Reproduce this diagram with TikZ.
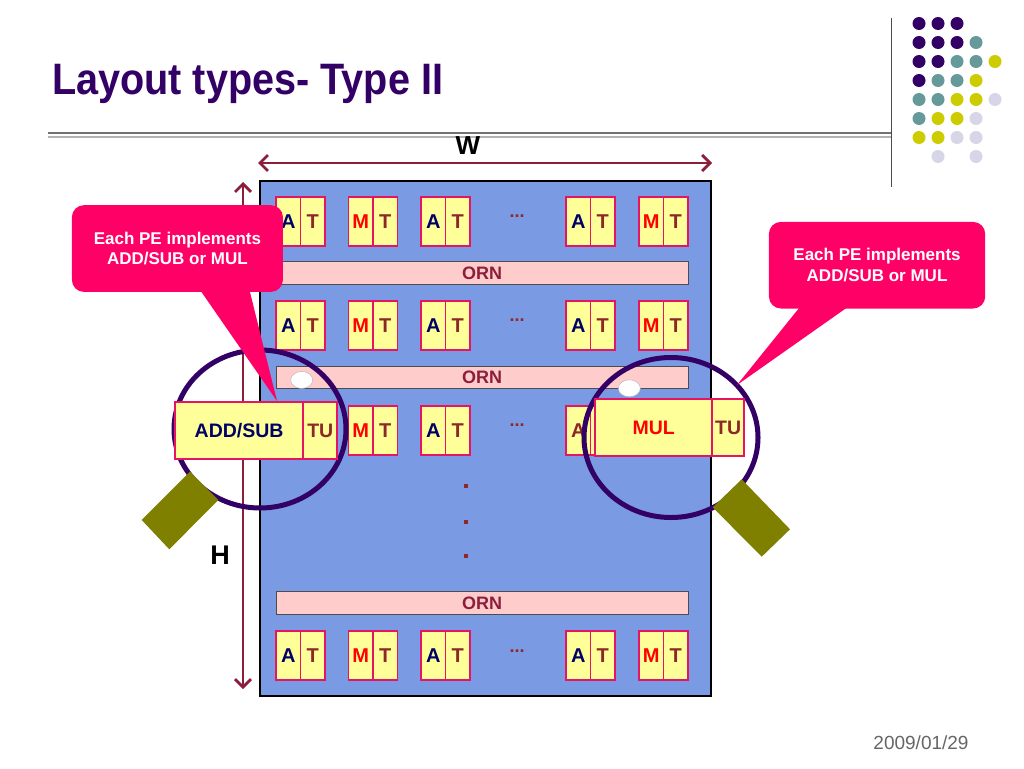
\documentclass[tikz,border=0pt]{standalone}
\usepackage{fontspec}
\setmainfont{Liberation Sans}
\usetikzlibrary{arrows.meta,shapes.geometric}
\definecolor{titlecol}{RGB}{51,0,102}
\definecolor{dotP}{RGB}{51,0,102}
\definecolor{dotT}{RGB}{102,153,153}
\definecolor{dotY}{RGB}{204,204,0}
\definecolor{dotL}{RGB}{214,214,232}
\definecolor{chipblue}{RGB}{122,155,228}
\definecolor{cellfill}{RGB}{255,255,153}
\definecolor{cellborder}{RGB}{230,20,100}
\definecolor{acol}{RGB}{0,0,102}
\definecolor{mcol}{RGB}{255,0,0}
\definecolor{tcol}{RGB}{140,40,40}
\definecolor{orncol}{RGB}{140,30,60}
\definecolor{ornfill}{RGB}{255,204,204}
\definecolor{arrcol}{RGB}{140,30,60}
\definecolor{ringcol}{RGB}{51,0,102}
\definecolor{handlecol}{RGB}{128,128,0}
\definecolor{calloutcol}{RGB}{255,0,102}
\newcommand\pepair[5]{%
  \node[cell, text=#5, anchor=north west] (#1a) at (#2,#3) {#4};
  \node[cell, text=tcol, anchor=north west] (#1b) at (#1a.north east) {T};
}
\begin{document}
\begin{tikzpicture}[x=1pt,y=-1pt,
  cell/.style={draw=cellborder, fill=cellfill, line width=1.6pt, minimum width=24.5pt,
    minimum height=49pt, inner sep=0pt, outer sep=0pt, font=\fontsize{20}{22}\selectfont\bfseries},
  orn/.style={draw=black!70, fill=ornfill, line width=1pt, minimum width=412pt,
    minimum height=22.5pt, inner sep=0pt, outer sep=0pt, text=orncol, font=\fontsize{18}{20}\selectfont\bfseries},
  bigcell/.style={draw=cellborder, fill=cellfill, line width=1.8pt, inner sep=0pt, outer sep=0pt,
    font=\fontsize{19.5}{22}\selectfont\bfseries},
  callout/.style={fill=calloutcol, rounded corners=12pt, inner sep=0pt, text=white, align=center,
    font=\fontsize{17}{20.5}\selectfont\bfseries},
  dimarrow/.style={draw=arrcol, line width=2.8pt, {Straight Barb[length=8pt,width=16pt]}-{Straight Barb[length=8pt,width=16pt]}},
  ring/.style={draw=ringcol, line width=5pt},
  handle/.style={fill=handlecol},
  gdot/.style={circle, inner sep=0pt, minimum size=13pt},
  ellip/.style={text=tcol, font=\fontsize{18}{20}\selectfont\bfseries},
  vdot/.style={fill=tcol, inner sep=0pt, minimum size=3.5pt},
  hole/.style={ellipse, fill=white, draw=black!30, line width=0.4pt, minimum width=22pt, minimum height=17pt, inner sep=0pt}
]
\useasboundingbox (0,0) rectangle (1024,768);
\fill[white] (0,0) rectangle (1024,768);

% title
\node[anchor=base west, inner sep=0pt, text=titlecol, font=\fontsize{44}{50}\selectfont\bfseries] (title) at (52,94) {\scalebox{0.9}[1]{Layout types- Type II}};

% separator lines
\draw[draw=black!55, line width=2.8pt] (48,133) -- (891,133);
\draw[draw=black!30, line width=2pt] (48,136.5) -- (891,136.5);
\draw[draw=black!70, line width=1pt] (891,18) -- (891,187);

% dot grid
\foreach \c/\r/\col in {0/0/dotP,1/0/dotP,2/0/dotP,
  0/1/dotP,1/1/dotP,2/1/dotP,3/1/dotT,
  0/2/dotP,1/2/dotP,2/2/dotT,3/2/dotT,4/2/dotY,
  0/3/dotP,1/3/dotT,2/3/dotT,3/3/dotY,
  0/4/dotT,1/4/dotT,2/4/dotY,3/4/dotY,4/4/dotL,
  0/5/dotT,1/5/dotY,2/5/dotY,3/5/dotL,
  0/6/dotY,1/6/dotY,2/6/dotL,3/6/dotL,
  1/7/dotL,3/7/dotL}
  \node[gdot, fill=\col] (d\c\r) at ({919+19*\c},{23.5+19*\r}) {};

% chip
\node[draw=black, fill=chipblue, line width=1.2pt, minimum width=451pt, minimum height=515pt,
  inner sep=0pt, outer sep=0pt, anchor=north west] (chip) at (260,181) {};

% dimension arrows
\coordinate (wl) at (258,163);
\coordinate (wr) at (712,163);
\draw[dimarrow] (wl) -- (wr);
\node[font=\fontsize{26}{28}\selectfont\bfseries] (W) at (468,146) {W};
\coordinate (ht) at (243,182);
\coordinate (hb) at (243,689);
\draw[dimarrow] (ht) -- (hb);
\node[font=\fontsize{27}{30}\selectfont\bfseries] (H) at (220,555) {H};

% ORN bars
\node[orn, anchor=north west] (orn1) at (276,261.7) {ORN};
\node[orn, anchor=north west] (orn2) at (276,366) {ORN};
\node[orn, anchor=north west] (orn3) at (276,591.7) {ORN};

% row 1
\pepair{ra}{276}{197}{A}{acol}
\pepair{rb}{348.5}{197}{M}{mcol}
\pepair{rc}{421}{197}{A}{acol}
\pepair{rd}{566}{197}{A}{acol}
\pepair{re}{639}{197}{M}{mcol}
\node[ellip] (e1) at (517,216) {...};
% row 2
\pepair{sa}{276}{301}{A}{acol}
\pepair{sb}{348.5}{301}{M}{mcol}
\pepair{sc}{421}{301}{A}{acol}
\pepair{sd}{566}{301}{A}{acol}
\pepair{se}{639}{301}{M}{mcol}
\node[ellip] (e2) at (517,320) {...};
% row 3
\pepair{tb}{348.5}{405.7}{M}{mcol}
\pepair{tc}{421}{405.7}{A}{acol}
\pepair{td}{566}{405.7}{A}{tcol}
\node[ellip] (e3) at (517,425) {...};
% row 4
\pepair{ua}{276}{631}{A}{acol}
\pepair{ub}{348.5}{631}{M}{mcol}
\pepair{uc}{421}{631}{A}{acol}
\pepair{ud}{566}{631}{A}{acol}
\pepair{ue}{639}{631}{M}{mcol}
\node[ellip] (e4) at (517,651) {...};

% vertical dots
\node[vdot] (v1) at (466,486) {};
\node[vdot] (v2) at (466,522) {};
\node[vdot] (v3) at (466,556) {};

% holes
\node[hole] (holeL) at (301.7,380) {};
\node[hole] (holeR) at (629.3,388.3) {};

% left magnifier
\draw[ring] (260,429) ellipse [x radius=86, y radius=79];
\node[bigcell, minimum width=128.3pt, minimum height=57pt, anchor=north west, text=acol] (addsub) at (175,402) {ADD/SUB};
\node[bigcell, minimum width=34pt, minimum height=57pt, anchor=north west, text=tcol] (tuL) at (addsub.north east) {TU};
\fill[handle] (190,471.7) -- (218.3,500) -- (169.3,549.3) -- (141.7,520) -- cycle;

% right magnifier
\draw[ring] (671,437.5) ellipse [x radius=87, y radius=80];
\node[bigcell, minimum width=117.3pt, minimum height=57pt, anchor=north west, text=mcol] (mul) at (595,399) {MUL};
\node[bigcell, minimum width=31.7pt, minimum height=57pt, anchor=north west, text=tcol] (tuR) at (mul.north east) {TU};
\fill[handle] (741.7,479.3) -- (790,529.3) -- (761.7,556.7) -- (712.7,507.3) -- cycle;

% callouts
\node[callout, minimum width=211pt, minimum height=86.7pt, anchor=north west] (callL) at (71.7,205)
  {Each PE implements\\ADD/SUB or MUL};
\coordinate (tipL) at (277,401);
\fill[calloutcol] ([xshift=124.3pt,yshift=8pt]callL.south west) -- (tipL) -- ([xshift=176.3pt,yshift=8pt]callL.south west) -- cycle;
\node[callout, minimum width=216.3pt, minimum height=86.6pt, anchor=north west] (callR) at (768.7,221.7)
  {Each PE implements\\ADD/SUB or MUL};
\coordinate (tipR) at (737,385);
\fill[calloutcol] ([xshift=36.3pt,yshift=8pt]callR.south west) -- (tipR) -- ([xshift=88pt,yshift=8pt]callR.south west) -- cycle;

% date
\node[text=black!60, font=\fontsize{19}{22}\selectfont] (date) at (921,743) {2009/01/29};
\end{tikzpicture}
\end{document}
